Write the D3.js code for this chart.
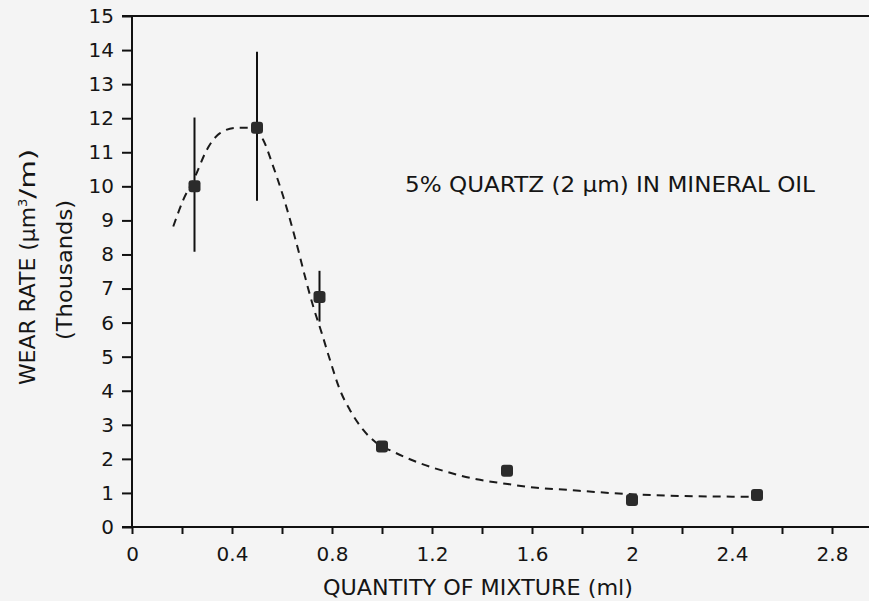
<!DOCTYPE html>
<html>
<head>
<meta charset="utf-8">
<script src="https://cdn.jsdelivr.net/npm/d3@7"></script>
<style>
  html, body { margin: 0; padding: 0; background: #f4f4f4; }
  svg { display: block; }
  text { font-family: "DejaVu Sans", "Liberation Sans", sans-serif; fill: #151515; }
</style>
</head>
<body>
<svg id="chart" width="869" height="601"></svg>
<script>
// ---- data ----
const quantity = [0.25, 0.5, 0.75, 1.0, 1.5, 2.0, 2.5];
const wearRate = [10.0, 11.72, 6.75, 2.36, 1.65, 0.79, 0.94];
const errLow  = [8.08, 9.58, 6.03, null, null, null, null];
const errHigh = [12.02, 13.95, 7.52, null, null, null, null];

const fitX = [0.165, 0.205, 0.252, 0.299, 0.352, 0.419, 0.479, 0.525, 0.565, 0.605, 0.665, 0.692, 0.725, 0.759, 0.792, 0.832, 0.872, 0.925, 0.979, 1.045, 1.152, 1.259, 1.379, 1.485, 1.619, 1.739, 1.85, 2.0, 2.2, 2.4, 2.54];
const fitY = [8.82, 9.60, 10.28, 11.07, 11.56, 11.72, 11.72, 11.36, 10.58, 9.70, 8.13, 7.35, 6.47, 5.69, 4.90, 4.02, 3.43, 2.85, 2.46, 2.21, 1.87, 1.62, 1.40, 1.28, 1.15, 1.09, 1.03, 0.96, 0.91, 0.89, 0.88];

const xTicks = [0, 0.2, 0.4, 0.6, 0.8, 1.0, 1.2, 1.4, 1.6, 1.8, 2.0, 2.2, 2.4, 2.6, 2.8];
const xTickLabels = ["0", "", "0.4", "", "0.8", "", "1.2", "", "1.6", "", "2", "", "2.4", "", "2.8"];
const yTicks = [0,1,2,3,4,5,6,7,8,9,10,11,12,13,14,15];

const annotation = "5% QUARTZ (2 \u00B5m) IN MINERAL OIL";
const xTitle = "QUANTITY OF MIXTURE (ml)";

// ---- layout ----
const svg = d3.select("#chart");
const x = d3.scaleLinear().domain([0, 3]).range([132, 882]);
const y = d3.scaleLinear().domain([0, 15]).range([527, 16]);

const g = svg.append("g");

// frame lines
g.append("line").attr("x1", 122).attr("x2", 869).attr("y1", y(15)).attr("y2", y(15))
  .attr("stroke", "#111").attr("stroke-width", 2);
g.append("line").attr("x1", 122).attr("x2", 869).attr("y1", y(0)).attr("y2", y(0))
  .attr("stroke", "#111").attr("stroke-width", 2);
g.append("line").attr("x1", x(0)).attr("x2", x(0)).attr("y1", y(15)).attr("y2", y(0))
  .attr("stroke", "#111").attr("stroke-width", 2);

// y axis
const yAxis = d3.axisLeft(y).tickValues(yTicks).tickSize(10).tickPadding(8).tickSizeOuter(0);
const yg = svg.append("g").attr("transform", `translate(${x(0)},0)`).call(yAxis);
yg.select(".domain").remove();
yg.selectAll(".tick line").attr("stroke", "#111").attr("stroke-width", 2);
yg.selectAll(".tick text").style("font-size", "20px").attr("fill", "#151515")
  .style("font-family", "DejaVu Sans, sans-serif");

// x axis
const xAxis = d3.axisBottom(x).tickValues(xTicks).tickSize(7).tickPadding(13)
  .tickFormat((d, i) => xTickLabels[i]).tickSizeOuter(0);
const xg = svg.append("g").attr("transform", `translate(0,${y(0)})`).call(xAxis);
xg.select(".domain").remove();
xg.selectAll(".tick line").attr("stroke", "#111").attr("stroke-width", 2);
xg.selectAll(".tick text").style("font-size", "20px").attr("fill", "#151515")
  .style("font-family", "DejaVu Sans, sans-serif");

// fitted dashed curve
const pts = fitX.map((v, i) => [v, fitY[i]]);
svg.append("path")
  .datum(pts)
  .attr("d", d3.line().x(d => x(d[0])).y(d => y(d[1])).curve(d3.curveMonotoneX))
  .attr("fill", "none").attr("stroke", "#1a1a1a").attr("stroke-width", 2)
  .attr("stroke-dasharray", "8,6");

// error bars
quantity.forEach((q, i) => {
  if (errLow[i] == null) return;
  svg.append("line")
    .attr("x1", x(q)).attr("x2", x(q))
    .attr("y1", y(errLow[i])).attr("y2", y(errHigh[i]))
    .attr("stroke", "#111").attr("stroke-width", 2);
});

// markers
svg.selectAll("rect.pt").data(quantity).enter().append("rect")
  .attr("class", "pt")
  .attr("x", d => x(d) - 6)
  .attr("y", (d, i) => y(wearRate[i]) - 6)
  .attr("width", 12).attr("height", 12).attr("rx", 3)
  .attr("fill", "#2b2b2b");

// annotation
svg.append("text").attr("x", 405).attr("y", 192)
  .attr("textLength", 410).attr("lengthAdjust", "spacingAndGlyphs")
  .style("font-size", "21px").text(annotation);

// x title
svg.append("text").attr("x", 323).attr("y", 595)
  .attr("textLength", 310).attr("lengthAdjust", "spacingAndGlyphs")
  .style("font-size", "21px").text(xTitle);

// y titles
const yt = svg.append("text").attr("transform", "translate(35,385) rotate(-90)")
  .style("font-size", "21px");
yt.append("tspan").attr("textLength", 178).attr("lengthAdjust", "spacingAndGlyphs").text("WEAR RATE (\u00B5m");
yt.append("tspan").attr("dy", -8).style("font-size", "13px").text("3");
yt.append("tspan").attr("dy", 8).attr("textLength", 50).attr("lengthAdjust", "spacingAndGlyphs").text("/m)");

svg.append("text").attr("transform", "translate(72,340) rotate(-90)")
  .attr("textLength", 140).attr("lengthAdjust", "spacingAndGlyphs")
  .style("font-size", "21px").text("(Thousands)");
</script>
</body>
</html>
